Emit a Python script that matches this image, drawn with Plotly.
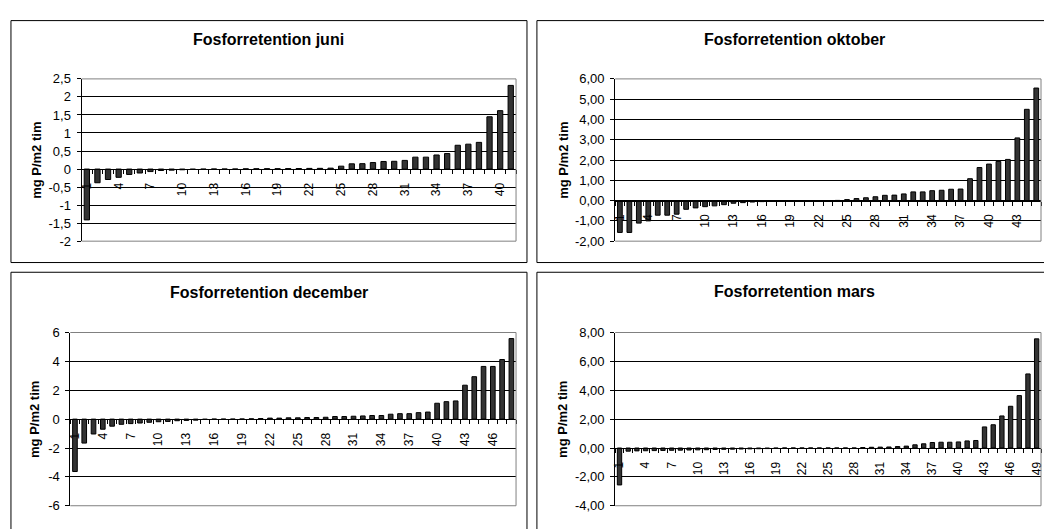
import plotly.graph_objects as go

W, H = 1044, 529

# ---------------- data ----------------
juni = [-1.41, -0.38, -0.29, -0.23, -0.15, -0.11, -0.07, -0.04, -0.03, -0.02,
        -0.01, -0.005, 0, 0, 0, 0.005, 0.008, 0.01, 0.01, 0.012,
        0.015, 0.018, 0.02, 0.025, 0.08, 0.145, 0.15, 0.18, 0.21, 0.215,
        0.24, 0.33, 0.33, 0.39, 0.43, 0.66, 0.69, 0.74, 1.45, 1.62, 2.32]

oktober = [-1.57, -1.57, -1.11, -1.0, -0.72, -0.72, -0.67, -0.43, -0.36, -0.30,
           -0.26, -0.20, -0.13, -0.10, -0.07, -0.05, -0.02, 0, 0, 0,
           0, 0, 0, 0.01, 0.05, 0.10, 0.14, 0.19, 0.26, 0.27,
           0.33, 0.43, 0.43, 0.49, 0.51, 0.56, 0.57, 1.08, 1.63, 1.80,
           1.93, 2.03, 3.09, 4.50, 5.55]

december = [-3.63, -1.66, -1.03, -0.70, -0.49, -0.36, -0.31, -0.27, -0.22, -0.18,
            -0.16, -0.11, -0.09, -0.07, -0.02, 0, 0, 0, 0.01, 0.02,
            0.04, 0.07, 0.07, 0.09, 0.09, 0.11, 0.11, 0.13, 0.18, 0.18,
            0.20, 0.22, 0.25, 0.25, 0.34, 0.38, 0.38, 0.45, 0.49, 1.10,
            1.21, 1.26, 2.35, 2.94, 3.65, 3.65, 4.13, 5.58]

mars = [-2.56, -0.22, -0.20, -0.19, -0.18, -0.17, -0.16, -0.15, -0.14, -0.13,
        -0.12, -0.10, -0.09, -0.08, -0.07, -0.06, -0.05, -0.04, -0.02, 0,
        0, 0, 0, 0, 0, 0, 0, 0, 0.03, 0.05,
        0.06, 0.07, 0.10, 0.13, 0.22, 0.29, 0.38, 0.40, 0.40, 0.42,
        0.49, 0.52, 1.46, 1.61, 2.22, 2.89, 3.63, 5.13, 7.56]

titles = ["Fosforretention juni", "Fosforretention oktober",
          "Fosforretention december", "Fosforretention mars"]
y_title = "mg P/m2 tim"

juni_yticks = [-2, -1.5, -1, -0.5, 0, 0.5, 1, 1.5, 2, 2.5]
juni_yticktext = ["-2", "-1,5", "-1", "-0,5", "0", "0,5", "1", "1,5", "2", "2,5"]
okt_yticks = [-2, -1, 0, 1, 2, 3, 4, 5, 6]
okt_yticktext = ["-2,00", "-1,00", "0,00", "1,00", "2,00", "3,00", "4,00", "5,00", "6,00"]
dec_yticks = [-6, -4, -2, 0, 2, 4, 6]
dec_yticktext = ["-6", "-4", "-2", "0", "2", "4", "6"]
mars_yticks = [-4, -2, 0, 2, 4, 6, 8]
mars_yticktext = ["-4,00", "-2,00", "0,00", "2,00", "4,00", "6,00", "8,00"]

# ---------------- layout (pixel geometry) ----------------
panels = [
    dict(vals=juni, yr=(-2, 2.5), yt=juni_yticks, ytt=juni_yticktext,
         plot=(79, 516, 74, 241), box=(8, 14, 527, 263), title=(267.5, 33), ytx=33),
    dict(vals=oktober, yr=(-2, 6), yt=okt_yticks, ytt=okt_yticktext,
         plot=(615.7, 1044, 74, 241), box=(537, 14, 1056, 263), title=(796.5, 33), ytx=563),
    dict(vals=december, yr=(-6, 6), yt=dec_yticks, ytt=dec_yticktext,
         plot=(67.7, 516, 335, 513.3), box=(8, 273, 527, 545), title=(267.5, 294), ytx=31),
    dict(vals=mars, yr=(-4, 8), yt=mars_yticks, ytt=mars_yticktext,
         plot=(615.7, 1044, 335, 513.3), box=(537, 273, 1056, 545), title=(796.5, 293), ytx=562),
]

FONT = "Arial, Liberation Sans, sans-serif"
fig = go.Figure()
shapes = []
annotations = []
layout_axes = {}

for i, p in enumerate(panels, start=1):
    sfx = "" if i == 1 else str(i)
    vals = p["vals"]
    n = len(vals)
    cats = list(range(1, n + 1))
    fig.add_trace(go.Bar(
        x=cats, y=vals, xaxis="x" + sfx, yaxis="y" + sfx,
        marker=dict(color="#333333", line=dict(color="#000000", width=1)),
        showlegend=False, hoverinfo="x+y"))

    l, r, t, b = p["plot"]
    dx0, dx1 = l / W, min(r / W, 1.0)
    dy0, dy1 = 1 - b / H, 1 - t / H
    ymin, ymax = p["yr"]
    zero_pos = dy0 + (0 - ymin) / (ymax - ymin) * (dy1 - dy0)
    label_cats = cats[::3]

    layout_axes["xaxis" + sfx] = dict(
        domain=[dx0, dx1], range=[0.5, n + 0.5], anchor="free", position=zero_pos,
        showline=True, linecolor="#000000", linewidth=1,
        tickmode="array", tickvals=label_cats, ticktext=[str(c) for c in label_cats],
        tickangle=-90, ticks="", showgrid=False, zeroline=False,
        ticklabelstandoff=8, ticklabeloverflow="allow", layer="above traces",
        tickfont=dict(family=FONT, size=12, color="#000000"),
        minor=dict(ticks="outside", tickmode="linear", tick0=0.5, dtick=1,
                   ticklen=4, tickcolor="#000000", showgrid=False),
        fixedrange=True)
    layout_axes["yaxis" + sfx] = dict(
        domain=[dy0, dy1], range=[ymin, ymax], anchor="x" + sfx,
        showline=True, linecolor="#000000", linewidth=1,
        tickmode="array", tickvals=p["yt"], ticktext=p["ytt"],
        ticks="outside", ticklen=4, tickcolor="#000000", ticklabelstandoff=3,
        showgrid=True, gridcolor="#000000", gridwidth=1, zeroline=False,
        tickfont=dict(family=FONT, size=13, color="#000000"),
        fixedrange=True)

    # grey plot-area frame (top, right, bottom)
    xd, yd = "x" + sfx + " domain", "y" + sfx + " domain"
    for (x0, y0, x1, y1) in [(0, 1, 1, 1), (1, 0, 1, 1), (0, 0, 1, 0)]:
        shapes.append(dict(type="line", xref=xd, yref=yd, x0=x0, y0=y0, x1=x1, y1=y1,
                           line=dict(color="#808080", width=1), layer="above"))

    # outer chart box
    bx0, by0, bx1, by1 = p["box"]
    shapes.append(dict(type="rect", xref="paper", yref="paper",
                       x0=bx0 / W, x1=bx1 / W, y0=1 - by1 / H, y1=1 - by0 / H,
                       line=dict(color="#000000", width=1), fillcolor="rgba(0,0,0,0)",
                       layer="below"))

    tx, ty = p["title"]
    annotations.append(dict(text="<b>" + titles[i - 1] + "</b>", xref="paper", yref="paper",
                            x=tx / W, y=1 - ty / H, xanchor="center", yanchor="middle",
                            showarrow=False, font=dict(family=FONT, size=16, color="#000000")))
    annotations.append(dict(text="<b>" + y_title + "</b>", xref="paper", yref="paper",
                            x=p["ytx"] / W, y=(dy0 + dy1) / 2, xanchor="center", yanchor="middle",
                            textangle=-90, showarrow=False,
                            font=dict(family=FONT, size=13, color="#000000")))

fig.update_layout(
    width=W, height=H, autosize=False,
    margin=dict(l=0, r=0, t=0, b=0, pad=0),
    paper_bgcolor="#ffffff", plot_bgcolor="#ffffff",
    bargap=0.5, showlegend=False,
    shapes=shapes, annotations=annotations,
    font=dict(family=FONT, color="#000000"),
    **layout_axes)

fig.write_html("out.html", config=dict(displayModeBar=False))
